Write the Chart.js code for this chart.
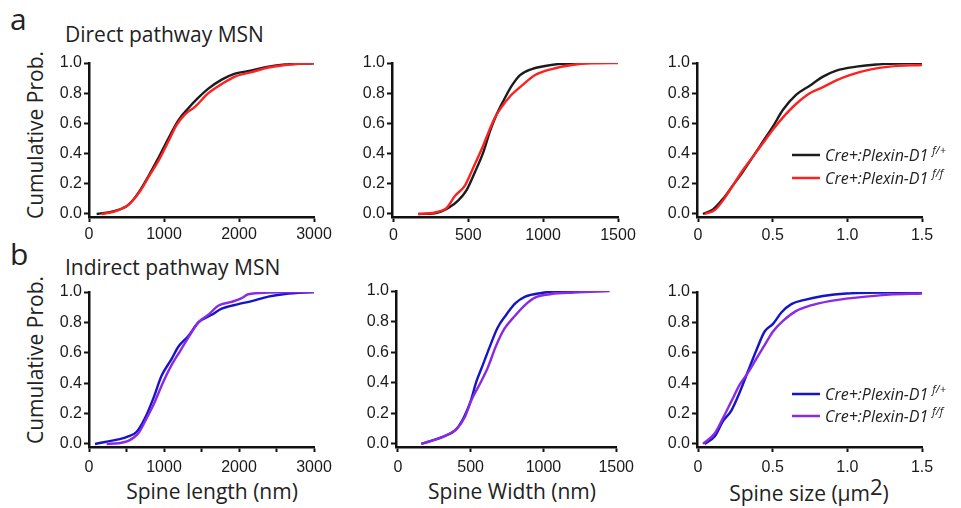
<!DOCTYPE html>
<html>
<head>
<meta charset="utf-8">
<script src="https://cdn.jsdelivr.net/npm/chart.js@4.4.1/dist/chart.umd.min.js"></script>
<style>
body{margin:0;background:#fff;}
#fig{position:relative;width:961px;height:508px;overflow:hidden;font-family:"Open Sans",sans-serif;color:#222;}
#fig canvas{position:absolute;}
.lbl{position:absolute;white-space:nowrap;line-height:1;}
.rot{transform:translate(-50%,-50%) rotate(-90deg);}
.xt{transform:translateX(-50%);}
</style>
</head>
<body>
<div id="fig">
  <div class="lbl" style="left:10px;top:4px;font-size:30px">a</div>
  <div class="lbl" style="left:65px;top:24px;font-size:21px">Direct pathway MSN</div>
  <div class="lbl" style="left:10px;top:239px;font-size:30px">b</div>
  <div class="lbl" style="left:65px;top:257px;font-size:21px">Indirect pathway MSN</div>
  <div class="lbl rot" style="left:35px;top:135px;font-size:21px">Cumulative Prob.</div>
  <div class="lbl rot" style="left:35px;top:360px;font-size:21px">Cumulative Prob.</div>
  <div class="lbl xt" style="left:212px;top:481px;font-size:21px">Spine length (nm)</div>
  <div class="lbl xt" style="left:512px;top:481px;font-size:21px">Spine Width (nm)</div>
  <div class="lbl xt" style="left:809px;top:481px;font-size:21px">Spine size (μm<span style="font-size:22px;position:relative;top:-6px">2</span>)</div>
</div>
<script>
// tick values
const probTicks = [0, 0.2, 0.4, 0.6, 0.8, 1.0]
const lengthTicks = [0, 1000, 2000, 3000]
const lengthTicksB = [0, 500, 1000, 1500, 2000, 2500, 3000]
const widthTicks = [0, 500, 1000, 1500]
const sizeTicks = [0, 0.5, 1.0, 1.5]

// genotypes (legend)
const genotype = ['Cre+:Plexin-D1', 'Cre+:Plexin-D1']
const genotypeSup = ['f/+', 'f/f']

// a) direct pathway - spine length (nm)
const aLenFpX = [102, 347, 524, 658, 791, 924, 1058, 1191, 1324, 1458, 1591, 1769, 1947, 2169, 2391, 2613, 3000]
const aLenFpY = [0, 0.02, 0.06, 0.14, 0.25, 0.37, 0.50, 0.62, 0.70, 0.77, 0.83, 0.89, 0.93, 0.95, 0.976, 0.99, 0.998]
const aLenFfX = [169, 347, 524, 680, 813, 924, 1058, 1169, 1280, 1413, 1591, 1769, 1947, 2169, 2391, 2613, 3000]
const aLenFfY = [0, 0.018, 0.06, 0.15, 0.26, 0.35, 0.48, 0.59, 0.66, 0.71, 0.80, 0.86, 0.91, 0.94, 0.97, 0.987, 1.0]
// a) spine width (nm)
const aWidFpX = [167, 278, 367, 434, 490, 546, 601, 646, 690, 735, 791, 846, 924, 1013, 1102, 1275]
const aWidFpY = [0, 0.005, 0.04, 0.09, 0.16, 0.28, 0.41, 0.55, 0.66, 0.75, 0.85, 0.92, 0.96, 0.98, 0.993, 1.0]
const aWidFfX = [167, 278, 356, 412, 479, 535, 590, 635, 679, 724, 780, 858, 947, 1058, 1192, 1325, 1500]
const aWidFfY = [0, 0.01, 0.04, 0.12, 0.19, 0.31, 0.43, 0.54, 0.64, 0.71, 0.78, 0.85, 0.92, 0.96, 0.987, 0.998, 1.0]
// a) spine size (um2)
const aSizeFpX = [0.033, 0.10, 0.167, 0.234, 0.30, 0.368, 0.435, 0.502, 0.569, 0.658, 0.748, 0.837, 0.926, 1.06, 1.194, 1.5]
const aSizeFpY = [0, 0.03, 0.10, 0.19, 0.28, 0.38, 0.48, 0.58, 0.69, 0.79, 0.85, 0.91, 0.95, 0.976, 0.99, 1.0]
const aSizeFfX = [0.045, 0.112, 0.167, 0.234, 0.30, 0.368, 0.435, 0.502, 0.569, 0.658, 0.748, 0.837, 0.926, 1.016, 1.15, 1.283, 1.5]
const aSizeFfY = [0, 0.026, 0.09, 0.19, 0.29, 0.38, 0.47, 0.56, 0.64, 0.73, 0.80, 0.84, 0.885, 0.92, 0.956, 0.976, 0.987]

// b) indirect pathway - spine length (nm)
const bLenFpX = [80, 213, 391, 524, 636, 747, 858, 969, 1102, 1191, 1324, 1458, 1636, 1769, 1991, 2169, 2391, 2613, 3000]
const bLenFpY = [0, 0.013, 0.03, 0.05, 0.08, 0.17, 0.30, 0.45, 0.56, 0.64, 0.71, 0.80, 0.85, 0.89, 0.92, 0.94, 0.97, 0.987, 1.0]
const bLenFfX = [235, 391, 524, 658, 769, 880, 991, 1102, 1213, 1324, 1458, 1591, 1724, 1902, 2036, 2124, 2391, 3000]
const bLenFfY = [0, 0.005, 0.02, 0.07, 0.17, 0.28, 0.41, 0.52, 0.61, 0.70, 0.80, 0.85, 0.91, 0.935, 0.96, 0.985, 0.996, 1.0]
// b) spine width (nm)
const bWidFpX = [161, 228, 317, 395, 451, 500, 540, 585, 629, 685, 741, 808, 875, 987, 1098, 1300]
const bWidFpY = [0, 0.02, 0.05, 0.09, 0.17, 0.28, 0.41, 0.52, 0.63, 0.76, 0.84, 0.92, 0.963, 0.987, 0.998, 1.0]
const bWidFfX = [161, 250, 339, 406, 462, 507, 562, 618, 674, 730, 797, 875, 942, 1054, 1210, 1455]
const bWidFfY = [0, 0.026, 0.06, 0.10, 0.18, 0.29, 0.39, 0.50, 0.64, 0.75, 0.83, 0.91, 0.957, 0.98, 0.99, 1.0]
// b) spine size (um2)
const bSizeFpX = [0.045, 0.112, 0.167, 0.223, 0.279, 0.335, 0.39, 0.446, 0.502, 0.558, 0.625, 0.714, 0.837, 0.993, 1.5]
const bSizeFpY = [0, 0.05, 0.15, 0.22, 0.34, 0.48, 0.615, 0.74, 0.79, 0.865, 0.92, 0.948, 0.974, 0.99, 1.0]
const bSizeFfX = [0.033, 0.112, 0.167, 0.223, 0.279, 0.335, 0.39, 0.446, 0.502, 0.569, 0.658, 0.748, 0.882, 1.06, 1.283, 1.5]
const bSizeFfY = [0, 0.07, 0.17, 0.28, 0.39, 0.47, 0.56, 0.65, 0.74, 0.81, 0.876, 0.91, 0.94, 0.963, 0.983, 0.99]

const colA = ['#1c1c1c', '#ff2020']
const colB = ['#1414c8', '#8a2ae6']

function pts(xs, ys) {
  return xs.map((x, i) => ({x: x, y: ys[i]}))
}

// dibuja la leyenda (linea + texto con superindice)
const cdfLegend = {
  id: 'cdfLegend',
  afterDraw(chart, args, opts) {
    if (!opts.show) return
    const ctx = chart.ctx
    const a = chart.chartArea
    chart.data.datasets.forEach((ds, i) => {
      const x = a.left + opts.left
      const y = a.top + opts.top + i * opts.gap
      ctx.save()
      ctx.strokeStyle = ds.borderColor
      ctx.lineWidth = 2.5
      ctx.beginPath()
      ctx.moveTo(x, y)
      ctx.lineTo(x + 28, y)
      ctx.stroke()
      ctx.fillStyle = '#222'
      ctx.textBaseline = 'alphabetic'
      ctx.font = 'italic 16px "Open Sans"'
      ctx.fillText(ds.label, x + 33, y + 6)
      const w = ctx.measureText(ds.label).width
      ctx.font = 'italic 11px "Open Sans"'
      ctx.fillText(ds.sup, x + 33 + w + 4, y - 1)
      ctx.restore()
    })
  }
}

function makePanel(box, plot, xr, xTicks, xFmt, xs1, ys1, xs2, ys2, cols, legend, labelPad) {
  const fig = document.getElementById('fig')
  const canvas = document.createElement('canvas')
  canvas.width = box.w
  canvas.height = box.h
  canvas.style.left = box.l + 'px'
  canvas.style.top = box.t + 'px'
  fig.appendChild(canvas)

  const axisW = plot.l - box.l
  const axisH = box.t + box.h - plot.b
  const tickFont = {family: '"Liberation Sans", Arial', size: 16}
  const axisCommon = {
    border: {display: true, color: '#111', width: 2.5},
    grid: {display: true, drawOnChartArea: false, drawTicks: true, tickLength: 5, tickWidth: 2, tickColor: '#111'}
  }
  new Chart(canvas, {
    type: 'scatter',
    data: {
      datasets: [
        {label: genotype[0], sup: genotypeSup[0], data: pts(xs1, ys1), borderColor: cols[0], order: 1},
        {label: genotype[1], sup: genotypeSup[1], data: pts(xs2, ys2), borderColor: cols[1], order: 0}
      ]
    },
    options: {
      responsive: false,
      animation: false,
      showLine: true,
      elements: {
        point: {radius: 0},
        line: {borderWidth: 2.4, cubicInterpolationMode: 'monotone', fill: false}
      },
      layout: {padding: {top: plot.t - box.t, right: box.l + box.w - plot.r, left: 0, bottom: 0}},
      plugins: {
        legend: {display: false},
        tooltip: {enabled: false},
        cdfLegend: legend
      },
      scales: {
        x: {
          ...axisCommon,
          type: 'linear',
          min: xr[0],
          max: xr[1],
          afterBuildTicks: s => { s.ticks = xTicks.map(v => ({value: v})) },
          afterFit: s => { s.height = axisH },
          ticks: {
            autoSkip: false, maxRotation: 0, padding: labelPad,
            color: '#1a1a1a', font: tickFont,
            callback: xFmt
          }
        },
        y: {
          ...axisCommon,
          type: 'linear',
          min: -0.02,
          max: 1,
          afterBuildTicks: s => { s.ticks = probTicks.map(v => ({value: v})) },
          afterFit: s => { s.width = axisW },
          ticks: {
            padding: 2, color: '#1a1a1a', font: tickFont,
            callback: v => v.toFixed(1)
          }
        }
      }
    },
    plugins: [cdfLegend]
  })
}

const fmtInt = v => String(v)
const fmtLenB = v => (v % 1000 === 0 ? String(v) : '')
const fmtSize = v => (v === 0 ? '0' : v.toFixed(1))
const noLegend = {show: false}

// fila a
makePanel({l: 40, t: 45, w: 300, h: 205}, {l: 89, r: 314, t: 63, b: 217}, [0, 3000], lengthTicks, fmtInt,
  aLenFpX, aLenFpY, aLenFfX, aLenFfY, colA, noLegend, 3)
makePanel({l: 345, t: 45, w: 295, h: 205}, {l: 392, r: 618, t: 63, b: 217}, [-9, 1500], widthTicks, fmtInt,
  aWidFpX, aWidFpY, aWidFfX, aWidFfY, colA, noLegend, 4)
makePanel({l: 650, t: 45, w: 305, h: 205}, {l: 697, r: 922, t: 63, b: 217}, [-0.007, 1.5], sizeTicks, fmtSize,
  aSizeFpX, aSizeFpY, aSizeFfX, aSizeFfY, colA, {show: true, left: 95, top: 92, gap: 23}, 4)
// fila b
makePanel({l: 40, t: 275, w: 300, h: 205}, {l: 89, r: 314, t: 292, b: 447}, [0, 3000], lengthTicksB, fmtLenB,
  bLenFpX, bLenFpY, bLenFfX, bLenFfY, colB, noLegend, 6)
makePanel({l: 345, t: 275, w: 295, h: 205}, {l: 396, r: 622, t: 291, b: 447}, [-13, 1500], widthTicks, fmtInt,
  bWidFpX, bWidFpY, bWidFfX, bWidFfY, colB, noLegend, 6)
makePanel({l: 650, t: 275, w: 305, h: 205}, {l: 697, r: 922, t: 292, b: 447}, [-0.007, 1.5], sizeTicks, fmtSize,
  bSizeFpX, bSizeFpY, bSizeFfX, bSizeFfY, colB, {show: true, left: 95, top: 102, gap: 22}, 6)
</script>
</body>
</html>
